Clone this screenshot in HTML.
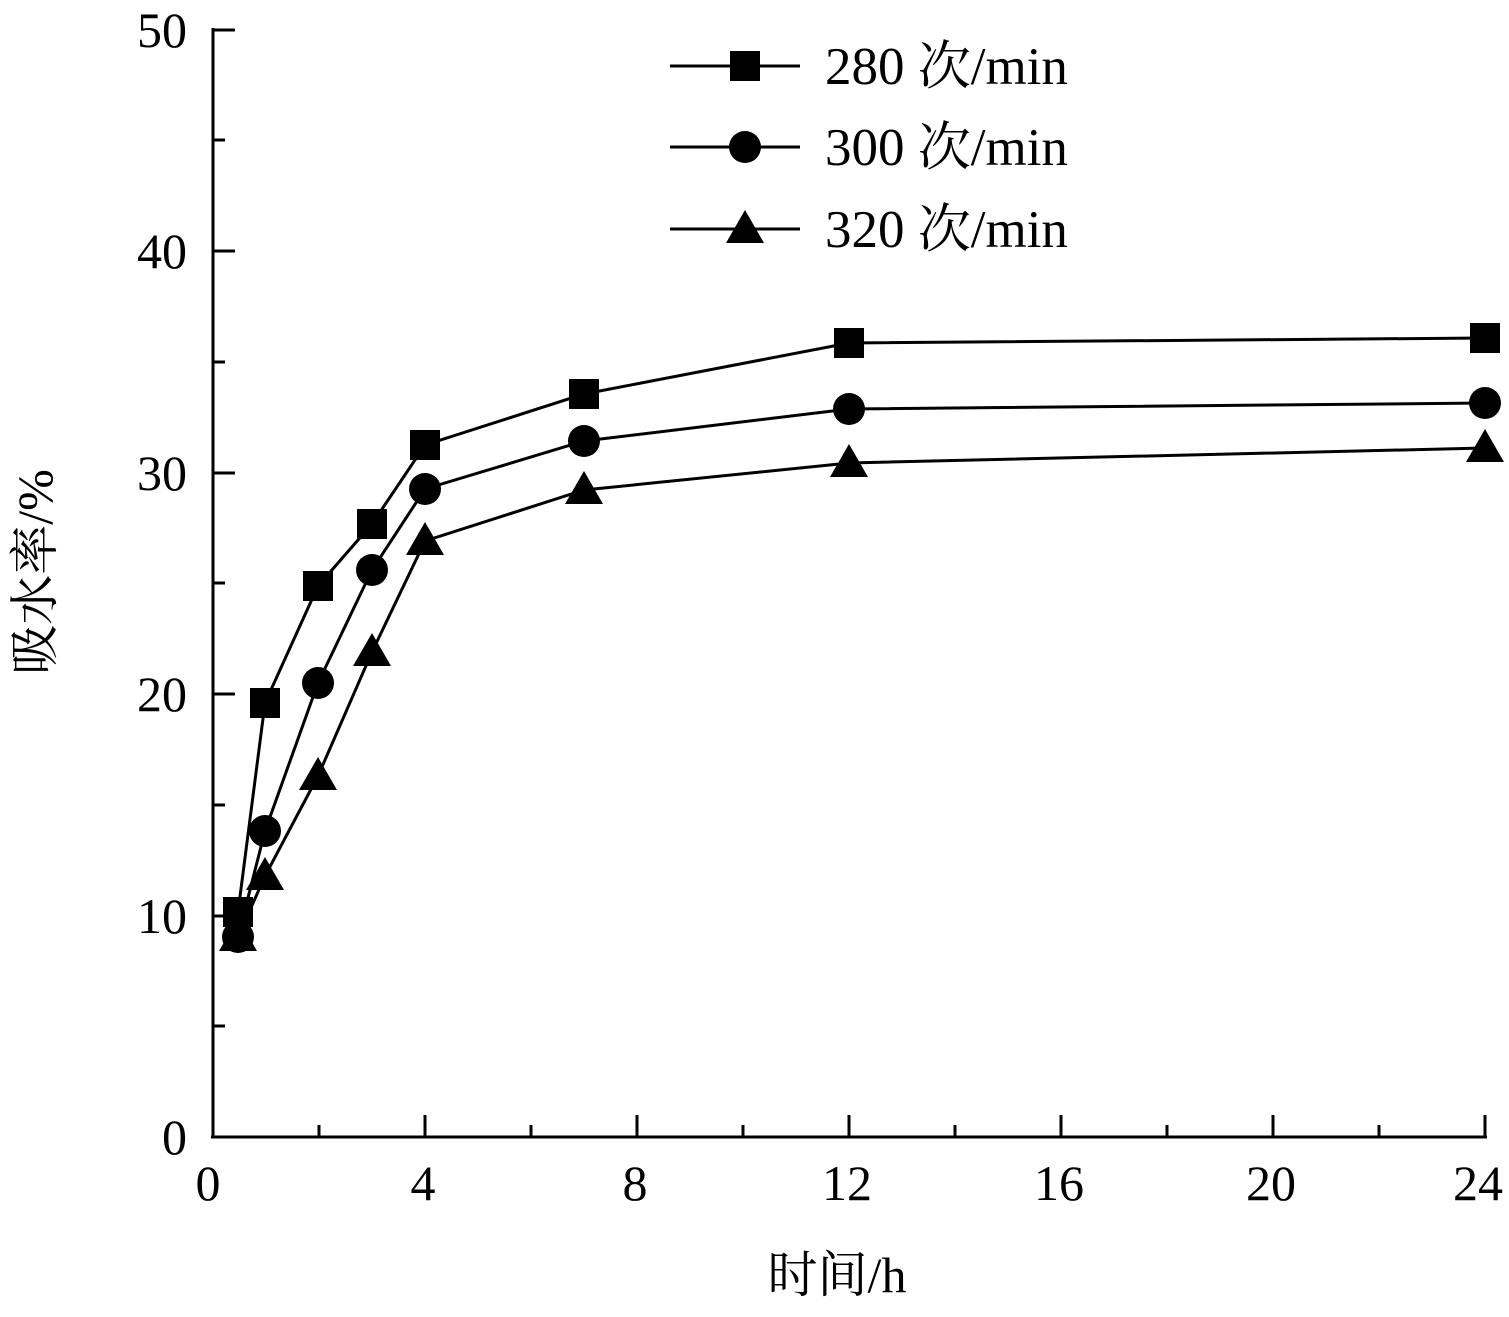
<!DOCTYPE html>
<html><head><meta charset="utf-8"><style>body{margin:0;background:#fff}</style></head><body>
<svg width="1509" height="1312" xmlns="http://www.w3.org/2000/svg" font-family="Liberation Serif, Noto Serif CJK SC, serif" font-size="50">
<g stroke="#000" stroke-width="3" fill="none">
<line x1="213" y1="28" x2="213" y2="1138"/>
<line x1="211" y1="1137" x2="1487" y2="1137"/>
<path d="M213 30h22M213 251h22M213 473h22M213 694h22M213 916h22M213 140h12M213 362h12M213 583h12M213 805h12M213 1026h12"/>
<path d="M213 1137v-22M425 1137v-22M637 1137v-22M849 1137v-22M1061 1137v-22M1273 1137v-22M1485 1137v-22M319 1137v-12M531 1137v-12M743 1137v-12M955 1137v-12M1167 1137v-12M1379 1137v-12"/>
<polyline points="238,912 265,703 318,586 372,524 425,445 584,394 849,343 1485,338"/>
<polyline points="238,937 265,831 318,683 372,570 425,489 584,441 849,409 1485,403"/>
<polyline points="238,937 265,876 318,776 372,652 425,541 584,490 849,463 1485,448"/>
<path d="M670 66h130M670 147h130M670 229h130"/>
</g>
<g fill="#000">
<rect x="223" y="897" width="30" height="30"/><rect x="250" y="688" width="30" height="30"/><rect x="303" y="571" width="30" height="30"/><rect x="357" y="509" width="30" height="30"/><rect x="410" y="430" width="30" height="30"/><rect x="569" y="379" width="30" height="30"/><rect x="834" y="328" width="30" height="30"/><rect x="1470" y="323" width="30" height="30"/><rect x="730" y="51" width="30" height="30"/>
<circle cx="238" cy="937" r="16"/><circle cx="265" cy="831" r="16"/><circle cx="318" cy="683" r="16"/><circle cx="372" cy="570" r="16"/><circle cx="425" cy="489" r="16"/><circle cx="584" cy="441" r="16"/><circle cx="849" cy="409" r="16"/><circle cx="1485" cy="403" r="16"/><circle cx="745" cy="147" r="16"/>
<path d="M238 918l19 33h-38zM265 857l19 33h-38zM318 757l19 33h-38zM372 633l19 33h-38zM425 522l19 33h-38zM584 471l19 33h-38zM849 444l19 33h-38zM1485 429l19 33h-38zM745 210l19 33h-38z"/>
<g text-anchor="end">
<text x="187" y="47">50</text><text x="187" y="268">40</text><text x="187" y="490">30</text><text x="187" y="711">20</text><text x="187" y="933">10</text><text x="187" y="1154">0</text>
</g>
<g text-anchor="middle">
<text x="208" y="1200">0</text><text x="423" y="1200">4</text><text x="635" y="1200">8</text><text x="847" y="1200">12</text><text x="1059" y="1200">16</text><text x="1271" y="1200">20</text><text x="1478" y="1200">24</text>
<text x="837" y="1292">时间/h</text>
<text transform="translate(52 572) rotate(-90)">吸水率/%</text>
</g>
<g font-size="53">
<text x="825" y="84">280 次/min</text>
<text x="825" y="165">300 次/min</text>
<text x="825" y="247">320 次/min</text>
</g>
</g>
</svg>
</body></html>
